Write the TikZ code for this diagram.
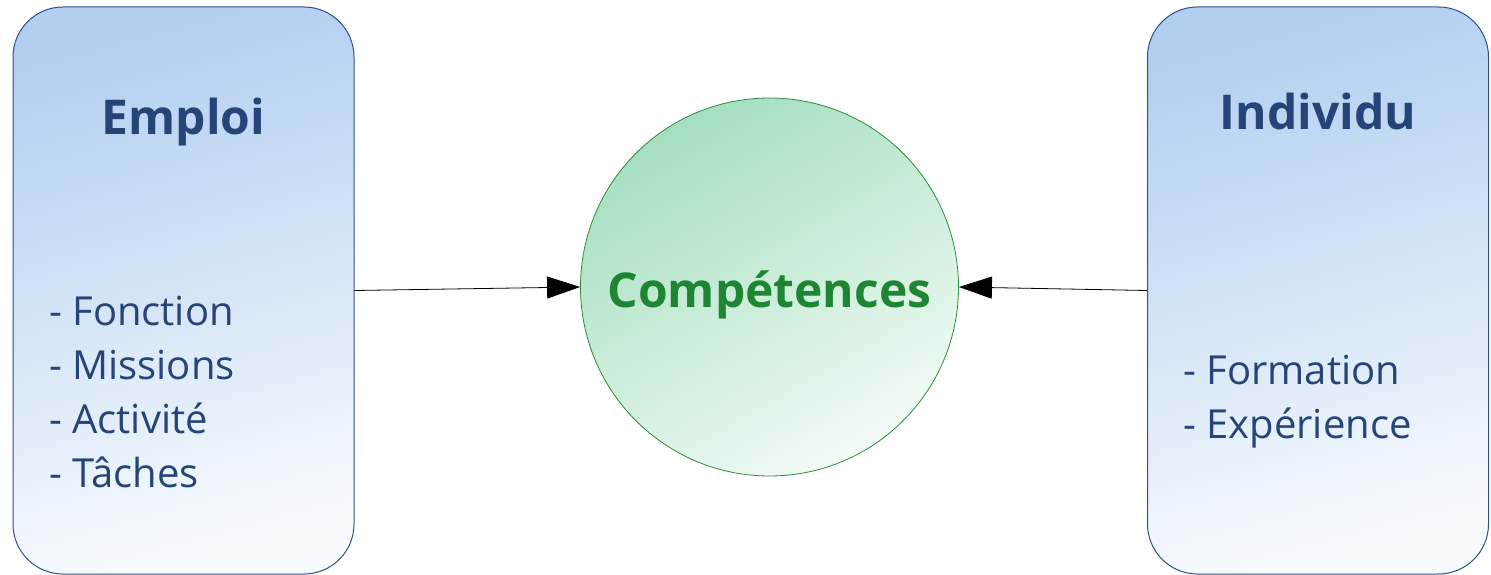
\documentclass[tikz,border=0pt]{standalone}
\usepackage{fontspec}
\setmainfont{Open Sans}
\usetikzlibrary{arrows.meta, positioning}

\definecolor{boxtop}{HTML}{B2CFF0}
\definecolor{boxbot}{HTML}{F8FBFE}
\definecolor{boxline}{HTML}{2F4F8A}
\definecolor{cirtop}{HTML}{A5DFBF}
\definecolor{cirbot}{HTML}{F2FBF5}
\definecolor{cirline}{HTML}{2E8B3A}
\definecolor{txtblue}{HTML}{264478}
\definecolor{txtgreen}{HTML}{1E8532}

\begin{document}
\begin{tikzpicture}[x=1pt, y=-1pt,
  bloc/.style={draw=boxline, line width=1pt, rounded corners=50pt,
    minimum width=341pt, minimum height=567pt, inner sep=0pt,
    top color=boxtop, bottom color=boxbot, shading angle=15},
  rond/.style={circle, draw=cirline, line width=0.8pt, minimum size=378pt,
    top color=cirtop, bottom color=cirbot, shading angle=30,
    text height=40pt, text depth=0pt,
    text=txtgreen, font=\fontsize{48}{58}\selectfont\bfseries},
  titre/.style={text=txtblue, font=\fontsize{48}{58}\selectfont\bfseries, inner sep=0pt},
  liste/.style={text=txtblue, font=\fontsize{40}{54}\selectfont, align=left, inner sep=0pt},
  fleche/.style={line width=0.8pt, -{Triangle[length=33pt, width=22pt]}}]
\useasboundingbox (0,0) rectangle (1491,575);
\node[bloc] (emploi) at (183.5,290.5) {};
\node[bloc] (indiv) at (1318,290.5) {};
\node[rond] (comp) at (769.5,287) {Compétences};
% textes des blocs
\node[titre, anchor=base] (emploiT) at (183.5,135) {Emploi};
\node[titre, anchor=base] (indivT) at (1318,130) {Individu};
\node[liste, anchor=base west] (emploiL) at (49,487) {- Fonction\\- Missions\\- Activité\\- Tâches};
\node[liste, anchor=base west] (indivL) at (1183,438) {- Formation\\- Expérience};
% fleches
\draw[fleche] (emploi.east) -- (comp.west);
\draw[fleche] (indiv.west) -- (comp.east);
\end{tikzpicture}
\end{document}
